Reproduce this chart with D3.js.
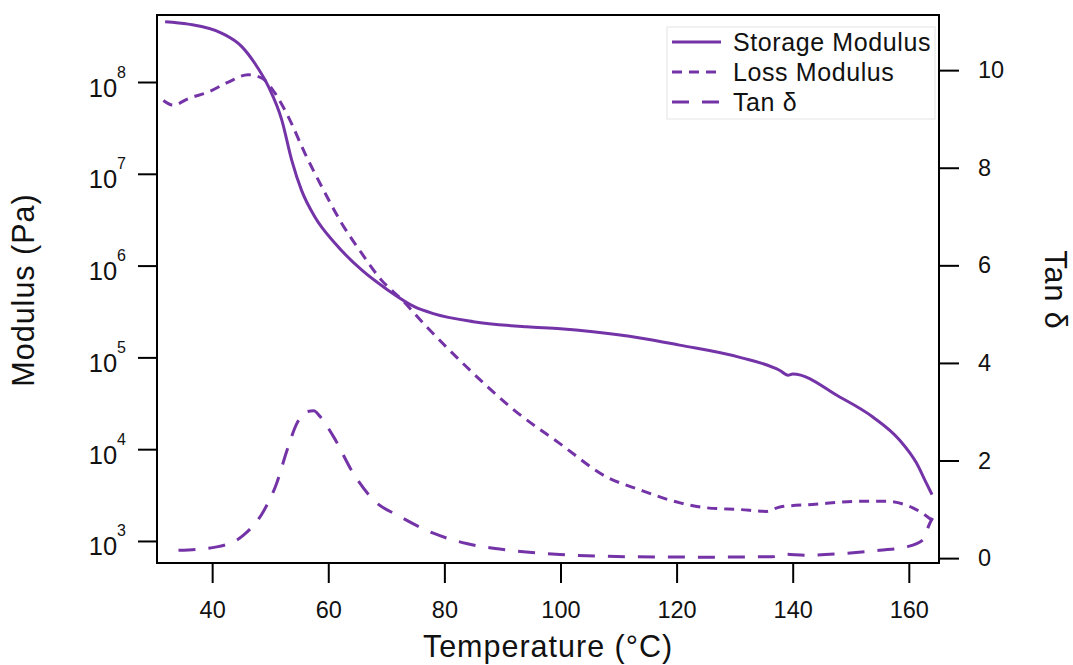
<!DOCTYPE html>
<html>
<head>
<meta charset="utf-8">
<title>DMA - Modulus and Tan delta</title>
<style type="text/css">
	body{
		margin: 0;
		background-color: #fff;
	}
	svg{
		display: block;
		font-family: "Liberation Sans", Arial, sans-serif;
	}
	.axis path, .axis line{
		stroke: #000;
		stroke-width: 2px;
	}
	.axis text{
		fill: #111;
		font-size: 23.5px;
	}
	.axisTitle{
		fill: #111;
		font-size: 30.5px;
		letter-spacing: 1px;
	}
	.legend text{
		fill: #111;
		font-size: 25px;
		letter-spacing: 0.6px;
	}
</style>
<script src="https://d3js.org/d3.v7.min.js"></script>
</head>
<body>
<div id="chart"></div>
<script type="text/javascript">
	// storage modulus (Pa) vs temperature (C)
	var storageTemp = [31.9, 35.9, 41.7, 45.1, 47.4, 49.7, 52.0, 53.7, 55.4, 57.7, 61.2, 65.8, 70.3, 74.9, 78.1, 85.0, 94.2, 100.0, 105.6, 113.7, 120.5, 130.9, 137.8, 139.2, 140.0, 148.1, 153.8, 158.4, 161.3, 163.0, 164.0];
	var storageMod = [4.54e8, 4.27e8, 3.39e8, 2.43e8, 1.58e8, 8.9e7, 3.85e7, 1.41e7, 6.6e6, 3.39e6, 1.74e6, 8.9e5, 5.4e5, 3.55e5, 3.0e5, 2.45e5, 2.15e5, 2.05e5, 1.9e5, 1.63e5, 1.36e5, 1.0e5, 7.2e4, 6.4e4, 6.6e4, 3.7e4, 2.24e4, 1.26e4, 7.1e3, 4.3e3, 3.2e3];

	// loss modulus (Pa)
	var lossTemp = [31.6, 33.3, 35.9, 39.4, 42.8, 46.2, 48.6, 50.8, 53.1, 56.0, 58.9, 62.3, 65.8, 69.2, 72.6, 77.0, 83.8, 91.9, 99.9, 107.9, 113.7, 120.6, 125.1, 130.9, 135.5, 137.8, 143.4, 151.5, 156.1, 159.6, 162.4, 164.1];
	var lossMod = [6.3e7, 5.6e7, 6.6e7, 7.8e7, 1.0e8, 1.2e8, 1.1e8, 7.6e7, 4.2e7, 1.66e7, 7.2e6, 2.9e6, 1.35e6, 6.9e5, 4.3e5, 2.14e5, 7.9e4, 2.7e4, 1.15e4, 5.0e3, 3.6e3, 2.6e3, 2.3e3, 2.2e3, 2.1e3, 2.35e3, 2.5e3, 2.7e3, 2.7e3, 2.45e3, 2.0e3, 1.66e3];

	// tan delta (right axis)
	var tanTemp = [34.2, 40.8, 45.4, 48.8, 51.1, 52.9, 54.6, 56.3, 57.5, 58.6, 60.9, 64.3, 67.8, 72.4, 78.1, 83.8, 91.3, 99.9, 111.4, 125.0, 136.6, 138.3, 142.4, 149.3, 155.0, 159.6, 162.4, 163.6, 164.1];
	var tanDelta = [0.16, 0.23, 0.47, 0.95, 1.53, 2.21, 2.76, 3.0, 3.02, 2.90, 2.49, 1.74, 1.19, 0.85, 0.51, 0.30, 0.16, 0.075, 0.03, 0.02, 0.03, 0.08, 0.06, 0.10, 0.16, 0.23, 0.37, 0.71, 0.82];

	var xTicks = [40, 60, 80, 100, 120, 140, 160];
	var modTicks = [1e3, 1e4, 1e5, 1e6, 1e7, 1e8];
	var tanTicks = [0, 2, 4, 6, 8, 10];
	var seriesNames = ['Storage Modulus', 'Loss Modulus', 'Tan δ'];

	var width = 1073, height = 665;
	var margin = {top: 15, right: 134, bottom: 102, left: 157};
	var purple = '#7434a8';
	var dashes = [null, '10,7', '17,13'];

	var svg = d3.select('#chart')
		.append('svg')
		.attr('width', width)
		.attr('height', height);

	var xScale = d3.scaleLinear()
		.domain([30.5, 165.2])
		.range([margin.left, width - margin.right]);
	var yScale = d3.scaleLog()
		.domain([Math.pow(10, 2.76), Math.pow(10, 8.73)])
		.range([height - margin.bottom, margin.top]);
	var tScale = d3.scaleLinear()
		.domain([-0.1, 11.13])
		.range([height - margin.bottom, margin.top]);

	function zip(xs, ys){
		return xs.map(function(x, i){ return [x, ys[i]]; });
	}

	var modLine = d3.line()
		.x(function(d){ return xScale(d[0]); })
		.y(function(d){ return yScale(d[1]); })
		.curve(d3.curveMonotoneX);
	var tanLine = d3.line()
		.x(function(d){ return xScale(d[0]); })
		.y(function(d){ return tScale(d[1]); })
		.curve(d3.curveMonotoneX);

	var paths = [
		modLine(zip(storageTemp, storageMod)),
		modLine(zip(lossTemp, lossMod)),
		tanLine(zip(tanTemp, tanDelta))
	];

	svg.selectAll('.series')
		.data(paths)
		.enter()
		.append('path')
		.attr('class', 'series')
		.attr('d', function(d){ return d; })
		.attr('fill', 'none')
		.attr('stroke', purple)
		.attr('stroke-width', 3)
		.attr('stroke-dasharray', function(d, i){ return dashes[i]; });

	// frame
	svg.append('rect')
		.attr('x', margin.left)
		.attr('y', margin.top)
		.attr('width', width - margin.left - margin.right)
		.attr('height', height - margin.top - margin.bottom)
		.attr('fill', 'none')
		.attr('stroke', '#000')
		.attr('stroke-width', 2);

	var xAxisG = svg.append('g')
		.attr('class', 'axis')
		.attr('transform', 'translate(0,' + (height - margin.bottom) + ')')
		.call(d3.axisBottom(xScale).tickValues(xTicks).tickSize(20).tickPadding(18).tickSizeOuter(0));

	var yAxisG = svg.append('g')
		.attr('class', 'axis')
		.attr('transform', 'translate(' + margin.left + ',0)')
		.call(d3.axisLeft(yScale).tickValues(modTicks).tickSize(19).tickPadding(12).tickSizeOuter(0));

	// 10 with superscript exponent
	yAxisG.selectAll('.tick text')
		.text(null)
		.attr('dy', '14px')
		.style('font-size', '25.5px')
		.each(function(d){
			var t = d3.select(this);
			t.append('tspan').text('10');
			t.append('tspan')
				.attr('dy', -19)
				.style('font-size', '16px')
				.text(Math.round(Math.log10(d)));
		});

	var tAxisG = svg.append('g')
		.attr('class', 'axis')
		.attr('transform', 'translate(' + (width - margin.right) + ',0)')
		.call(d3.axisRight(tScale).tickValues(tanTicks).tickSize(20).tickPadding(19).tickSizeOuter(0));

	xAxisG.select('.domain').remove();
	yAxisG.select('.domain').remove();
	tAxisG.select('.domain').remove();

	// axis titles
	svg.append('text')
		.attr('class', 'axisTitle')
		.attr('x', (margin.left + width - margin.right) / 2)
		.attr('y', 657)
		.attr('text-anchor', 'middle')
		.text('Temperature (°C)');

	svg.append('text')
		.attr('class', 'axisTitle')
		.attr('transform', 'translate(34,290) rotate(-90)')
		.attr('text-anchor', 'middle')
		.text('Modulus (Pa)');

	svg.append('text')
		.attr('class', 'axisTitle')
		.attr('transform', 'translate(1045,290) rotate(90)')
		.attr('text-anchor', 'middle')
		.text('Tan δ');

	// legend
	var legend = svg.append('g').attr('class', 'legend');
	legend.append('rect')
		.attr('x', 667)
		.attr('y', 27)
		.attr('width', 268)
		.attr('height', 92)
		.attr('fill', '#fff')
		.attr('stroke', '#e4e4e4')
		.attr('stroke-width', 1);

	var items = legend.selectAll('.item')
		.data(seriesNames)
		.enter()
		.append('g')
		.attr('class', 'item')
		.attr('transform', function(d, i){ return 'translate(672,' + (42 + i * 30) + ')'; });

	items.append('line')
		.attr('x1', 0)
		.attr('x2', 49)
		.attr('stroke', purple)
		.attr('stroke-width', 3)
		.attr('stroke-dasharray', function(d, i){ return dashes[i]; });

	items.append('text')
		.attr('x', 61)
		.attr('y', 9)
		.text(function(d){ return d; });
</script>
</body>
</html>
